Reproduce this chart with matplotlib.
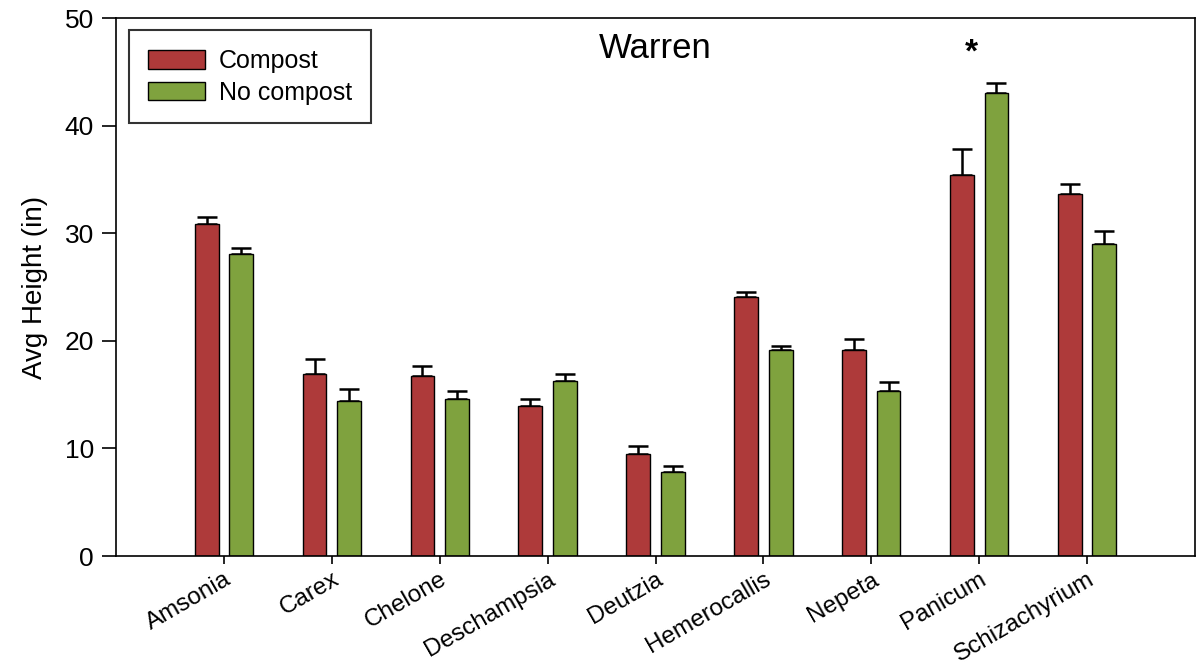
import numpy as np
import matplotlib
matplotlib.use("Agg")
import matplotlib.pyplot as plt

plt.rcParams['font.family'] = ['Liberation Sans', 'DejaVu Sans']

species = ["Amsonia", "Carex", "Chelone", "Deschampsia", "Deutzia",
           "Hemerocallis", "Nepeta", "Panicum", "Schizachyrium"]
compost = [30.9, 16.9, 16.7, 13.9, 9.5, 24.1, 19.1, 35.4, 33.6]
compost_se = [0.6, 1.4, 1.0, 0.65, 0.7, 0.45, 1.1, 2.4, 1.0]
no_compost = [28.1, 14.4, 14.6, 16.3, 7.8, 19.1, 15.3, 43.0, 29.0]
no_compost_se = [0.55, 1.1, 0.75, 0.65, 0.55, 0.4, 0.9, 0.95, 1.2]
signif = ["", "", "", "", "", "", "", "*", ""]

red = "#AE3A3A"
green = "#7FA23E"

fig = plt.figure(figsize=(11.96, 6.71), dpi=100)
ax = fig.add_axes([116 / 1196, 1 - 556 / 671, (1195 - 116) / 1196, (556 - 18) / 671])

x = np.arange(len(species))
w = 0.22
off = 0.16
err_kw = dict(ecolor="black", elinewidth=1.8, capsize=7.5, capthick=1.8)
ax.bar(x - off, compost, w, color=red, edgecolor="black", linewidth=1.0,
       label="Compost", zorder=2)
ax.errorbar(x - off, compost, yerr=[np.zeros(len(x)), compost_se], fmt="none",
            zorder=1, **err_kw)
ax.bar(x + off, no_compost, w, color=green, edgecolor="black", linewidth=1.0,
       label="No compost", zorder=2)
ax.errorbar(x + off, no_compost, yerr=[np.zeros(len(x)), no_compost_se], fmt="none",
            zorder=1, **err_kw)

for i, s in enumerate(signif):
    if s:
        top = max(compost[i] + compost_se[i], no_compost[i] + no_compost_se[i])
        ax.text(x[i] - 0.07, top + 2.8, s, ha="center", va="center",
                fontsize=24, fontweight="bold")

ax.set_xlim(-1, 9)
ax.set_ylim(0, 50)
ax.set_yticks([0, 10, 20, 30, 40, 50])
ax.set_xticks(x)
ax.set_xticklabels(species, rotation=30, ha="right", rotation_mode="anchor",
                   fontsize=17.5)
ax.tick_params(axis="y", direction="out", length=10, width=1.2, labelsize=19, pad=6)
ax.tick_params(axis="x", direction="out", length=6, width=1.2, pad=3)
for sp in ax.spines.values():
    sp.set_linewidth(1.2)
ax.set_ylabel("Avg Height (in)", fontsize=20, labelpad=12)
ax.text(0.5, 0.944, "Warren", transform=ax.transAxes, ha="center", va="center",
        fontsize=25)

leg = ax.legend(loc="upper left", bbox_to_anchor=(0.012, 0.977), fontsize=18,
                frameon=True, fancybox=False, edgecolor="black",
                handlelength=2.3, handleheight=0.75, borderpad=0.75,
                labelspacing=0.3, handletextpad=0.55, borderaxespad=0)
leg.get_frame().set_linewidth(1.5)

fig.savefig("out.png", dpi=100)
